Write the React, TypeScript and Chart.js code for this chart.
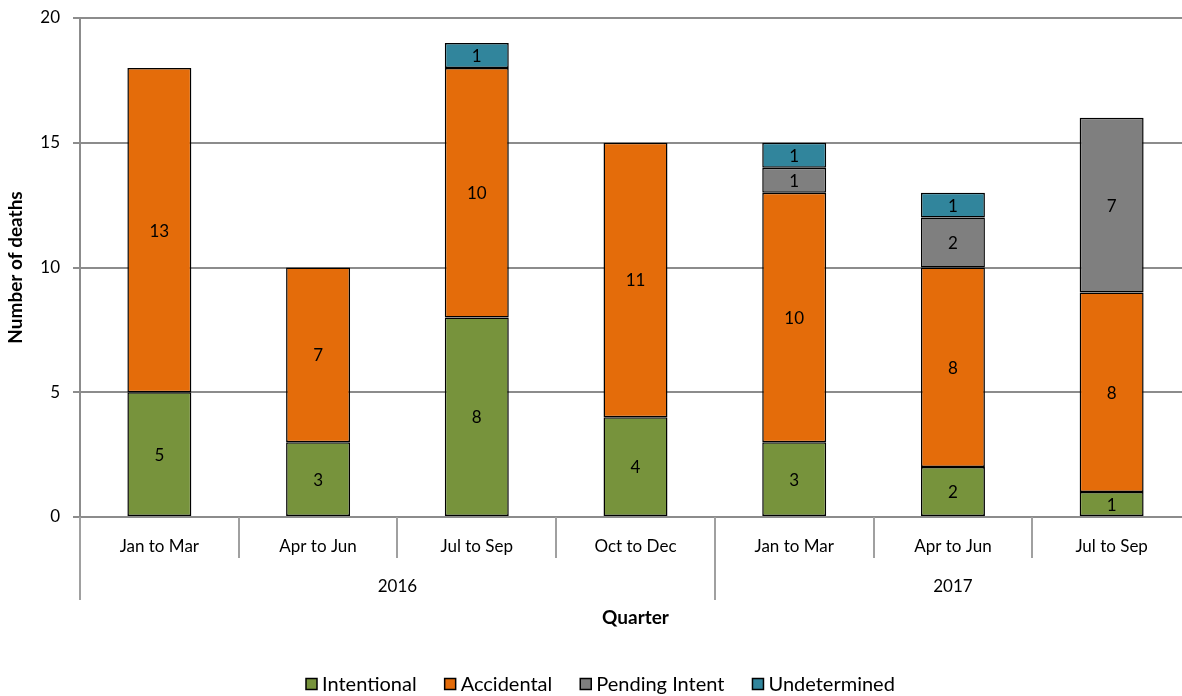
import React, { useEffect, useRef } from "react";
import { Chart, registerables } from "chart.js";

Chart.register(...registerables);

// Quarters along the x axis, grouped by year
const quarters = ["Jan to Mar", "Apr to Jun", "Jul to Sep", "Oct to Dec", "Jan to Mar", "Apr to Jun", "Jul to Sep"];
const years = ["2016", "2017"];
const quartersPerYear = [4, 3];

// Deaths by category per quarter
const intentional = [5, 3, 8, 4, 3, 2, 1];
const accidental = [13, 7, 10, 11, 10, 8, 8];
const pendingIntent = [0, 0, 0, 0, 1, 2, 7];
const undetermined = [0, 0, 1, 0, 1, 1, 0];

const seriesNames = ["Intentional", "Accidental", "Pending Intent", "Undetermined"];
const seriesColors = ["#77933C", "#E46C0A", "#7F7F7F", "#31859C"];

const yMin = 0;
const yMax = 20;
const yStep = 5;

const FONT = "Lato, 'Open Sans', sans-serif";
const GRID = "#8c8c8c";
const SEP = "#a0a0a0";

const overlayPlugin = {
  id: "overlay",
  afterDatasetsDraw(chart: any) {
    const ctx = chart.ctx;
    ctx.save();
    ctx.font = `17px ${FONT}`;
    ctx.fillStyle = "#000";
    ctx.textAlign = "center";
    ctx.textBaseline = "middle";
    chart.data.datasets.forEach((ds: any, di: number) => {
      const meta = chart.getDatasetMeta(di);
      meta.data.forEach((bar: any, i: number) => {
        const v = ds.data[i];
        if (!v) return;
        const cy = (bar.y + bar.base) / 2;
        ctx.fillText(String(v), bar.x, cy + 1);
      });
    });
    ctx.restore();
  },
  afterDraw(chart: any) {
    const ctx = chart.ctx;
    const area = chart.chartArea;
    const x = chart.scales.x;
    const n = quarters.length;
    const catW = (area.right - area.left) / n;
    const bottom = area.bottom;
    ctx.save();

    // category and year separators beneath the axis
    const yearStarts = new Set<number>();
    let acc = 0;
    quartersPerYear.forEach((c) => {
      yearStarts.add(acc);
      acc += c;
    });
    yearStarts.add(acc);
    ctx.strokeStyle = SEP;
    ctx.lineWidth = 2;
    for (let i = 0; i <= n; i++) {
      const px = Math.round(area.left + i * catW);
      const len = yearStarts.has(i) ? 83 : 41;
      ctx.beginPath();
      ctx.moveTo(px, bottom);
      ctx.lineTo(px, bottom + len);
      ctx.stroke();
    }

    // year labels centred under their quarters
    ctx.fillStyle = "#000";
    ctx.font = `17px ${FONT}`;
    ctx.textAlign = "center";
    ctx.textBaseline = "middle";
    let start = 0;
    years.forEach((yr, k) => {
      const c = quartersPerYear[k];
      const x0 = x.getPixelForValue(start) - catW / 2;
      const x1 = x.getPixelForValue(start + c - 1) + catW / 2;
      ctx.fillText(yr, (x0 + x1) / 2, bottom + 70);
      start += c;
    });

    // x axis title
    ctx.font = `bold 19px ${FONT}`;
    ctx.fillText("Quarter", (area.left + area.right) / 2, bottom + 101);

    // legend
    ctx.font = `20px ${FONT}`;
    const box = 11;
    const gapBoxText = 5;
    const gapItems = 28;
    const widths = chart.data.datasets.map((ds: any) => box + gapBoxText + ctx.measureText(ds.label).width);
    const total = widths.reduce((a: number, b: number) => a + b, 0) + gapItems * (widths.length - 1);
    let lx = Math.round(chart.width / 2 - total / 2);
    const ly = bottom + 167;
    chart.data.datasets.forEach((ds: any, i: number) => {
      ctx.fillStyle = ds.backgroundColor;
      ctx.fillRect(lx, ly - box / 2, box, box);
      ctx.strokeStyle = "#000";
      ctx.lineWidth = 1.5;
      ctx.strokeRect(lx, ly - box / 2, box, box);
      ctx.fillStyle = "#000";
      ctx.textAlign = "left";
      ctx.fillText(ds.label, lx + box + gapBoxText, ly + 1);
      lx += widths[i] + gapItems;
    });
    ctx.restore();
  },
};

export default function App() {
  const canvasRef = useRef<HTMLCanvasElement | null>(null);

  useEffect(() => {
    document.body.style.margin = "0";
    document.body.style.overflow = "hidden";
    const canvas = canvasRef.current;
    if (!canvas) return;
    const series = [intentional, accidental, pendingIntent, undetermined];
    const chart = new Chart(canvas, {
      type: "bar",
      data: {
        labels: quarters,
        datasets: series.map((data, i) => ({
          label: seriesNames[i],
          data,
          backgroundColor: seriesColors[i],
          borderColor: "#000",
          borderWidth: 1.5,
          borderSkipped: false,
          barPercentage: 0.403,
          categoryPercentage: 1,
        })),
      },
      options: {
        responsive: false,
        animation: false,
        devicePixelRatio: 1,
        layout: { padding: { top: 18, right: 9, left: 0, bottom: 119 } },
        plugins: {
          legend: { display: false },
          tooltip: { enabled: false },
        },
        scales: {
          x: {
            stacked: true,
            grid: { display: false },
            border: { display: true, color: GRID, width: 2 },
            ticks: {
              color: "#000",
              font: { family: FONT, size: 17 },
              padding: 11,
              maxRotation: 0,
              autoSkip: false,
            },
            afterFit: (scale: any) => {
              scale.height = 60;
              scale.paddingLeft = 0;
              scale.paddingRight = 0;
            },
          },
          y: {
            stacked: true,
            min: yMin,
            max: yMax,
            ticks: {
              stepSize: yStep,
              color: "#000",
              font: { family: FONT, size: 17 },
              padding: 13,
            },
            grid: { color: GRID, lineWidth: 2, tickLength: 7 },
            border: { display: true, color: GRID, width: 2 },
            title: {
              display: true,
              text: "Number of deaths",
              color: "#000",
              font: { family: FONT, size: 19, weight: "bold" },
              padding: { top: 4, bottom: 0 },
            },
            afterFit: (scale: any) => {
              scale.width = 80;
              scale.paddingTop = 0;
              scale.paddingBottom = 0;
            },
          },
        },
      },
      plugins: [overlayPlugin],
    });
    return () => chart.destroy();
  }, []);

  return (
    <div style={{ position: "fixed", left: 0, top: 0, width: 1200, height: 696, background: "#fff" }}>
      <canvas ref={canvasRef} width={1200} height={696} style={{ display: "block" }} />
    </div>
  );
}
